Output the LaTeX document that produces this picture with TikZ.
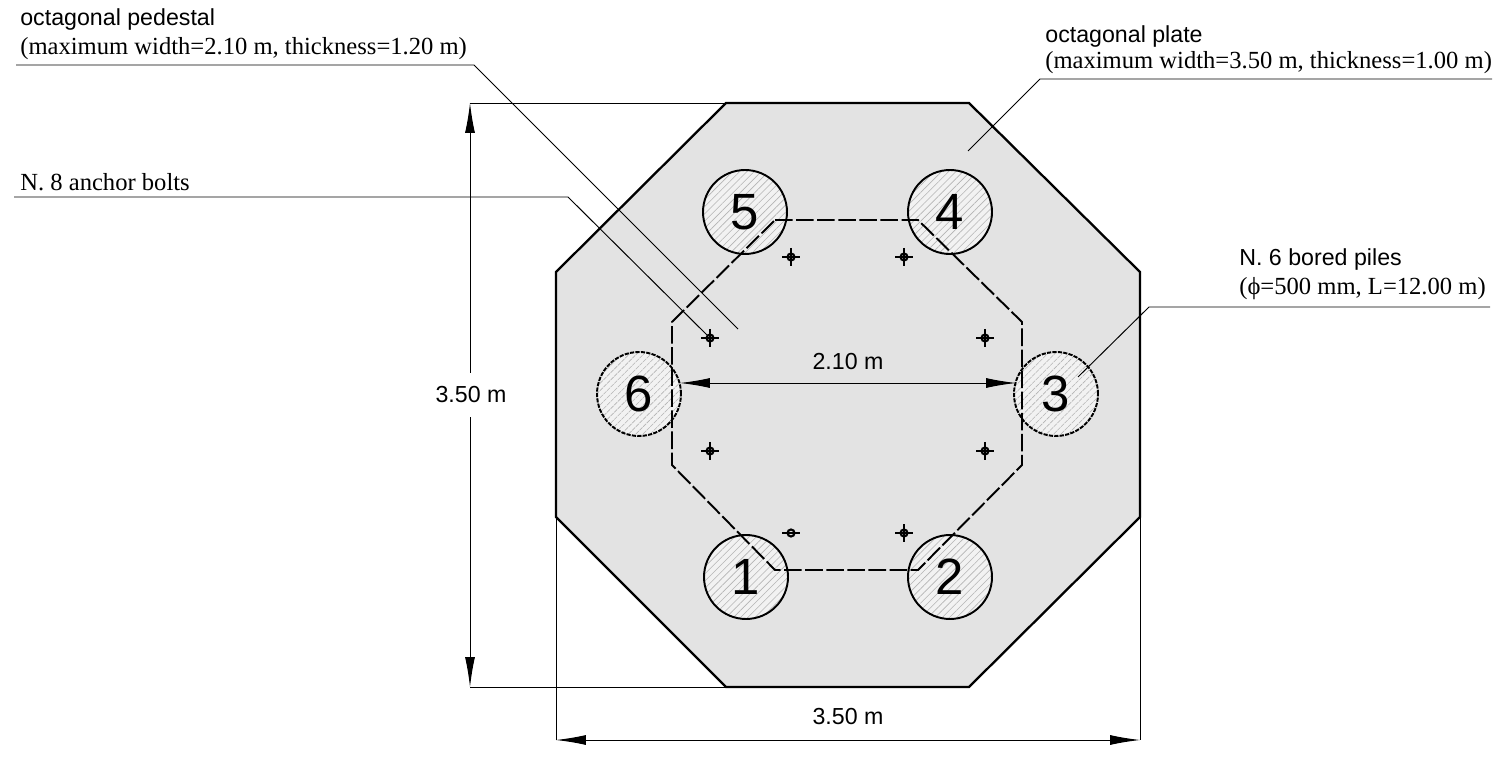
\documentclass[tikz,border=0pt]{standalone}
\usepackage{fontspec}
\setmainfont{Liberation Serif}
\newfontfamily\labelsans{Liberation Sans}
\usetikzlibrary{patterns.meta, arrows.meta}
\definecolor{platefill}{HTML}{E3E3E3}
\definecolor{hatchgray}{HTML}{B4B4B4}
\tikzset{
  pile/.style={circle, draw, line width=1.1pt, minimum size=1.68cm, inner sep=0pt,
    preaction={fill=white!95!black},
    pattern={Lines[angle=45, distance=2.9pt, line width=0.35pt]}, pattern color=hatchgray,
    font=\labelsans\fontsize{29}{29}\selectfont},
  hiddenpile/.style={pile, dash pattern=on 2.4pt off 0.7pt},
  bolt/.style={circle, draw, line width=1.2pt, minimum size=0.14cm, inner sep=0pt},
  leader/.style={line width=0.55pt},
  dim/.style={line width=0.55pt, {Latex[length=0.6cm,width=0.2cm]}-{Latex[length=0.6cm,width=0.2cm]}},
  sanslabel/.style={anchor=base west, inner sep=0pt, font=\labelsans\fontsize{13.2}{14}\selectfont},
  seriflabel/.style={anchor=base west, inner sep=0pt, font=\fontsize{14}{15}\selectfont},
  dimlabel/.style={inner sep=0pt, font=\labelsans\fontsize{13.2}{14}\selectfont}
}

\begin{document}
\begin{tikzpicture}[x=0.02cm, y=-0.02cm]
  \useasboundingbox (0, 0) rectangle (1499, 760);
  % plate
  \draw[fill=platefill, line width=1.3pt] (726, 103) -- (969, 103) -- (1140, 272) -- (1140, 517)
    -- (969, 687) -- (726, 687) -- (556, 517) -- (556, 272) -- cycle;
  % piles
  \node[pile] (pile1) at (746, 577) {1};
  \node[pile] (pile2) at (950, 577) {2};
  \node[hiddenpile] (pile3) at (1056, 394) {3};
  \node[pile] (pile4) at (950, 212) {4};
  \node[pile] (pile5) at (745, 212) {5};
  \node[hiddenpile] (pile6) at (639, 394) {6};
  % pedestal
  \draw[line width=1.1pt, dash pattern=on 10pt off 2pt] (775, 220) -- (918, 220) -- (1022, 322) -- (1022, 465)
    -- (918, 570) -- (775, 570) -- (672, 465) -- (672, 322) -- cycle;
  % anchor bolts
  \foreach \name/\x/\y in {a/791/257, b/904/257, c/985/338, d/985/451, e/904/533, f/710/451, g/710/338} {
    \node[bolt] (bolt\name) at (\x, \y) {};
    \draw[line width=0.8pt] (bolt\name.center) ++(-9, 0) -- ++(18, 0);
    \draw[line width=0.8pt] (bolt\name.center) ++(0, -9) -- ++(0, 18);
  }
  \node[bolt] (bolth) at (791, 533) {};
  \draw[line width=0.8pt] (bolth.center) ++(-9, 0) -- ++(18, 0);
  % leaders
  \coordinate (pedestalstart) at (16, 65);
  \coordinate (pedestalknee) at (474, 65);
  \coordinate (pedestalend) at (738, 329);
  \draw[leader] (pedestalstart) -- (pedestalknee) -- (pedestalend);
  \coordinate (platestart) at (1492, 79);
  \coordinate (plateknee) at (1040, 79);
  \coordinate (plateend) at (968, 151);
  \draw[leader] (platestart) -- (plateknee) -- (plateend);
  \coordinate (boltstart) at (14, 197);
  \coordinate (boltknee) at (568, 197);
  \draw[leader] (boltstart) -- (boltknee) -- (boltg);
  \coordinate (pilestart) at (1490, 307);
  \coordinate (pileknee) at (1149, 307);
  \coordinate (pileend) at (1078, 377);
  \draw[leader] (pilestart) -- (pileknee) -- (pileend);
  % dimensions
  \coordinate (dimtop) at (470, 103);
  \coordinate (dimbottom) at (470, 687);
  \coordinate (platetop) at (726, 103);
  \coordinate (platebottom) at (726, 687);
  \draw[leader] (dimtop) -- (platetop);
  \draw[leader] (dimbottom) -- (platebottom);
  \draw[dim] (dimtop) -- (dimbottom);
  \coordinate (dimleft) at (556, 740);
  \coordinate (dimright) at (1140, 740);
  \coordinate (plateleft) at (556, 517);
  \coordinate (plateright) at (1140, 517);
  \draw[leader] (plateleft) -- (dimleft);
  \draw[leader] (plateright) -- (dimright);
  \draw[dim] (dimleft) -- (dimright);
  \coordinate (pedleft) at (680, 383);
  \coordinate (pedright) at (1016, 383);
  \draw[dim] (pedleft) -- (pedright);
  \node[dimlabel, fill=white, inner ysep=8pt] (heightlabel) at (471, 395) {3.50 m};
  \node[dimlabel] (widthlabel) at (848, 717) {3.50 m};
  \node[dimlabel] (pedestallabel) at (848, 362) {2.10 m};
  % labels
  \node[sanslabel] (pedestaltitle) at (20, 26) {octagonal pedestal};
  \node[seriflabel] (pedestaltext) at (20, 55) {(maximum width=2.10 m, thickness=1.20 m)};
  \node[sanslabel] (platetitle) at (1045, 43) {octagonal plate};
  \node[seriflabel] (platetext) at (1045, 69) {(maximum width=3.50 m, thickness=1.00 m)};
  \node[seriflabel] (bolttext) at (20, 191) {N. 8 anchor bolts};
  \node[sanslabel] (piletitle) at (1239, 266) {N. 6 bored piles};
  \node[seriflabel] (piletext) at (1239, 295) {(ϕ=500 mm, L=12.00 m)};
\end{tikzpicture}
\end{document}
